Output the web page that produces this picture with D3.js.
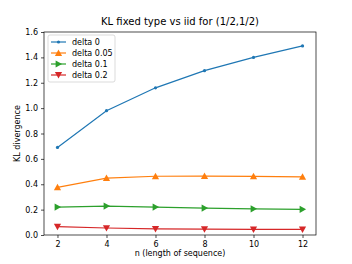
<!DOCTYPE html>
<html><head><meta charset="utf-8">
<script src="https://cdn.jsdelivr.net/npm/d3@7"></script>
<style>body{margin:0;background:#fff}svg{display:block;font-family:"DejaVu Sans",sans-serif}</style>
</head><body><svg id="c" width="352" height="264"></svg>
<script>
const nValues = [2, 4, 6, 8, 10, 12];
const delta0 = [0.69, 0.98, 1.16, 1.295, 1.40, 1.49];
const delta005 = [0.375, 0.448, 0.463, 0.464, 0.462, 0.458];
const delta01 = [0.22, 0.228, 0.22, 0.212, 0.206, 0.202];
const delta02 = [0.066, 0.055, 0.048, 0.046, 0.045, 0.044];
const seriesNames = ["delta 0", "delta 0.05", "delta 0.1", "delta 0.2"];
const xTicks = [2, 4, 6, 8, 10, 12];
const yTicks = [0.0, 0.2, 0.4, 0.6, 0.8, 1.0, 1.2, 1.4, 1.6];

const colors = ["#1f77b4", "#ff7f0e", "#2ca02c", "#d62728"];
const markers = ["dot", "up", "right", "down"];
const series = [delta0, delta005, delta01, delta02];

const svg = d3.select("#c");
const L = 44, R = 316, T = 32, B = 235;
const x = d3.scaleLinear().domain([1.45, 12.55]).range([L, R]);
const y = d3.scaleLinear().domain([0, 1.6]).range([B, T]);

svg.append("text").attr("x", (L + R) / 2).attr("y", 25).attr("text-anchor", "middle")
  .attr("font-size", 10).text("KL fixed type vs iid for (1/2,1/2)");

const gx = svg.append("g").attr("transform", `translate(0,${B})`)
  .call(d3.axisBottom(x).tickValues(xTicks).tickSize(3).tickPadding(3).tickFormat(d3.format("d")));
const gy = svg.append("g").attr("transform", `translate(${L},0)`)
  .call(d3.axisLeft(y).tickValues(yTicks).tickSize(3).tickPadding(3).tickFormat(d3.format(".1f")));
[gx, gy].forEach(g => { g.select(".domain").remove(); g.selectAll("text").attr("font-size", 8).attr("fill", "#000").attr("font-family", "DejaVu Sans"); g.selectAll("line").attr("stroke", "#000").attr("stroke-width", 0.7); });

svg.append("rect").attr("x", L).attr("y", T).attr("width", R - L).attr("height", B - T)
  .attr("fill", "none").attr("stroke", "#000").attr("stroke-width", 0.7);

svg.append("text").attr("x", (L + R) / 2).attr("y", 256).attr("text-anchor", "middle")
  .attr("font-size", 8).text("n (length of sequence)");
svg.append("text").attr("transform", `translate(20,${(T + B) / 2}) rotate(-90)`).attr("text-anchor", "middle")
  .attr("font-size", 8).text("KL divergence");

function marker(g, type, cx, cy, color) {
  const s = 3.6;
  let p;
  if (type === "dot") { g.append("circle").attr("cx", cx).attr("cy", cy).attr("r", 1.6).attr("fill", color); return; }
  if (type === "up") p = [[cx, cy - s], [cx - s, cy + s * 0.8], [cx + s, cy + s * 0.8]];
  if (type === "down") p = [[cx, cy + s], [cx - s, cy - s * 0.8], [cx + s, cy - s * 0.8]];
  if (type === "right") p = [[cx + s, cy], [cx - s * 0.8, cy - s], [cx - s * 0.8, cy + s]];
  g.append("path").attr("d", "M" + p.join("L") + "Z").attr("fill", color);
}

const line = d3.line().x((d, i) => x(nValues[i])).y(d => y(d));
series.forEach((vals, k) => {
  const g = svg.append("g");
  g.append("path").datum(vals).attr("d", line).attr("fill", "none").attr("stroke", colors[k]).attr("stroke-width", 1.2);
  vals.forEach((v, i) => marker(g, markers[k], x(nValues[i]), y(v), colors[k]));
});

const lg = svg.append("g");
lg.append("rect").attr("x", 48).attr("y", 35).attr("width", 67).attr("height", 47).attr("rx", 2)
  .attr("fill", "#fff").attr("fill-opacity", 0.8).attr("stroke", "#ccc").attr("stroke-width", 0.7);
seriesNames.forEach((name, k) => {
  const yy = 42 + k * 11;
  lg.append("line").attr("x1", 51).attr("x2", 66).attr("y1", yy).attr("y2", yy).attr("stroke", colors[k]).attr("stroke-width", 1.2);
  marker(lg, markers[k], 58.5, yy, colors[k]);
  lg.append("text").attr("x", 72).attr("y", yy + 3).attr("font-size", 8).text(name);
});
</script></body></html>
